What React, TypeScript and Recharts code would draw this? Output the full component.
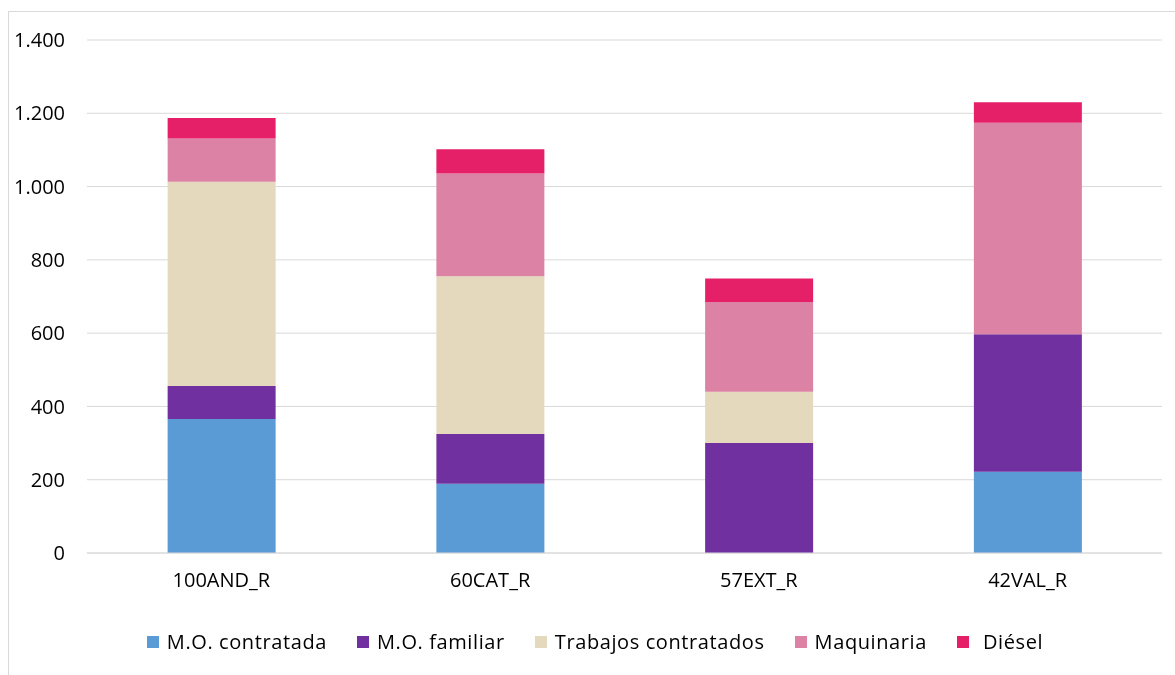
import React from "react";
import { BarChart, Bar, XAxis, YAxis, CartesianGrid, Legend } from "recharts";

const categories = ["100AND_R", "60CAT_R", "57EXT_R", "42VAL_R"];
const moContratada = [366, 189, 0, 222];
const moFamiliar = [90, 136, 300, 375];
const trabajos = [557, 430, 140, 0];
const maquinaria = [118, 281, 245, 577];
const diesel = [56, 66, 64, 56];
const yTicks = [0, 200, 400, 600, 800, 1000, 1200, 1400];

const series = [
  { key: "c", name: "M.O. contratada", color: "#5B9BD5", values: moContratada },
  { key: "f", name: "M.O. familiar", color: "#7030A0", values: moFamiliar },
  { key: "t", name: "Trabajos contratados", color: "#E4D9BD", values: trabajos },
  { key: "m", name: "Maquinaria", color: "#DC82A4", values: maquinaria },
  { key: "d", name: "Diésel", color: "#E52068", values: diesel },
];

const data = categories.map((cat, i) => {
  const row: any = { cat };
  series.forEach((s) => (row[s.key] = s.values[i]));
  return row;
});

const FONT = "'Open Sans', 'Noto Sans', sans-serif";

const fmt = (v: number) => v.toString().replace(/\B(?=(\d{3})+(?!\d))/g, ".");

const LegendContent = () => (
  <div style={{ display: "flex", justifyContent: "center", alignItems: "center", paddingLeft: 20, fontFamily: FONT, fontSize: 20, letterSpacing: 0.6, color: "#000" }}>
    {series.map((s, i) => (
      <div key={s.key} style={{ display: "flex", alignItems: "center", marginLeft: i === 0 ? 0 : 30 }}>
        <span style={{ display: "inline-block", width: 12, height: 12, background: s.color, marginRight: i === series.length - 1 ? 14 : 8 }} />
        <span>{s.name}</span>
      </div>
    ))}
  </div>
);

export default function App() {
  return (
    <div style={{ position: "relative", width: 1167, height: 667 }}>
      <div style={{ position: "fixed", left: 8, top: 11, width: 1300, height: 800, borderLeft: "1px solid #d9d9d9", borderTop: "1px solid #d9d9d9", pointerEvents: "none" }} />
      <BarChart
        width={1167}
        height={667}
        data={data}
        margin={{ top: 32, right: 13, left: 0, bottom: 0 }}
        barCategoryGap="30%"
      >
        <CartesianGrid vertical={false} stroke="#d9d9d9" strokeWidth={1} />
        <XAxis
          dataKey="cat"
          axisLine={{ stroke: "#d9d9d9" }}
          tickLine={false}
          height={95}
          tick={{ fontFamily: FONT, fontSize: 20, fill: "#000", dy: 12 }}
        />
        <YAxis
          width={79}
          domain={[0, 1400]}
          ticks={yTicks}
          axisLine={false}
          tickLine={false}
          tickFormatter={fmt}
          tick={{ fontFamily: FONT, fontSize: 20, fill: "#000", dx: -14 }}
        />
        <Legend verticalAlign="bottom" content={<LegendContent />} wrapperStyle={{ bottom: 20 }} />
        {series.map((s) => (
          <Bar key={s.key} dataKey={s.key} name={s.name} stackId="a" fill={s.color} isAnimationActive={false} />
        ))}
      </BarChart>
    </div>
  );
}
